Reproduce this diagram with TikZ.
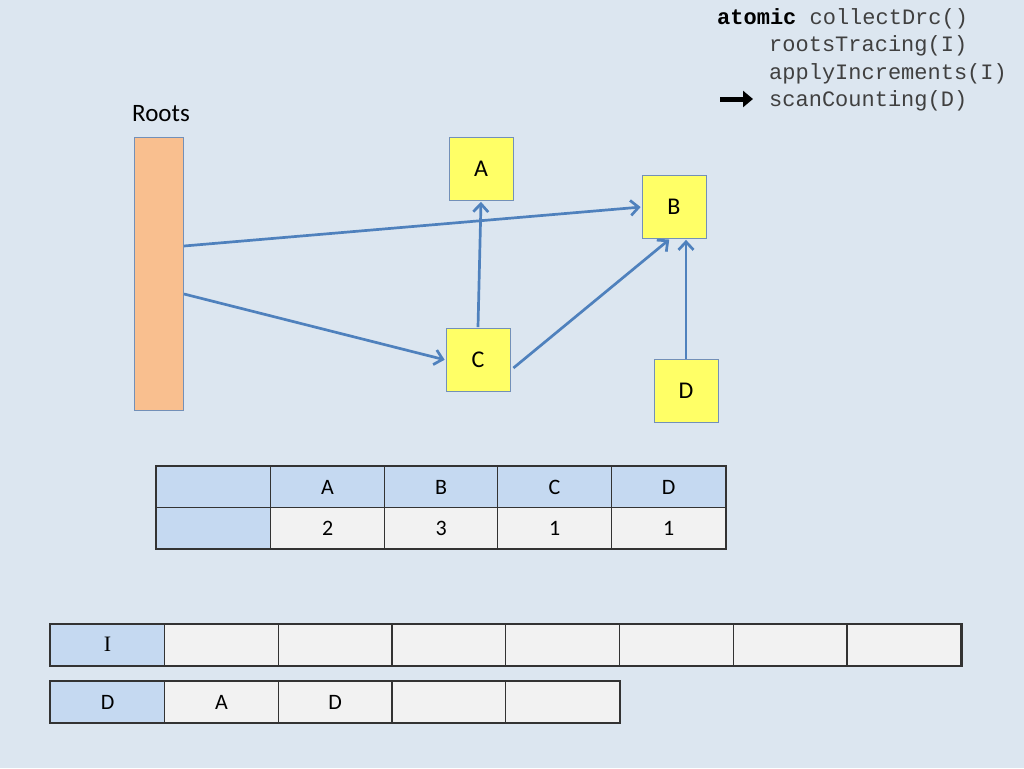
\documentclass[tikz,border=0pt]{standalone}
\usepackage{fontspec}
\setmainfont{Carlito}
\newfontfamily\monof{Liberation Mono}
\newfontfamily\seriff{Liberation Serif}
\usetikzlibrary{arrows.meta}
\definecolor{bg}{HTML}{DCE6F0}
\definecolor{peach}{HTML}{F9BF8F}
\definecolor{yel}{HTML}{FFFF66}
\definecolor{boxline}{HTML}{7390B8}
\definecolor{arr}{HTML}{4F81BD}
\definecolor{hdr}{HTML}{C5D9F1}
\definecolor{cellw}{HTML}{F2F2F2}
\definecolor{codegray}{HTML}{404040}
\tikzset{
  objbox/.style={draw=boxline, line width=0.8pt, fill=yel, minimum width=64pt, minimum height=63pt, inner sep=0pt, font=\fontsize{24}{28}\selectfont},
  ptr/.style={draw=arr, line width=2.7pt, -{Straight Barb[length=8pt,width=15pt]}, shorten >=1pt},
  cellh/.style={draw=black!80, line width=1.2pt, fill=hdr, minimum width=114pt, minimum height=41pt, inner sep=0pt, anchor=north west, font=\fontsize{22}{26}\selectfont},
  cellv/.style={cellh, fill=cellw},
  codeline/.style={anchor=base west, inner sep=0pt, font=\monof\fontsize{22}{26}\selectfont, text=codegray},
}
\begin{document}
\begin{tikzpicture}[x=1pt,y=-1pt]
\useasboundingbox (0,0) rectangle (1024,768);
\fill[bg] (0,0) rectangle (1024,768);

% code
\node[codeline, text=black] (c1) at (717,25) {\textbf{atomic}\ \textcolor{codegray}{collectDrc()}};
\node[codeline] (c2) at (769,52) {rootsTracing(I)};
\node[codeline] (c3) at (769,79) {applyIncrements(I)};
\node[codeline] (c4) at (769,106) {scanCounting(D)};
\coordinate (pa) at (720,99);
\coordinate (pb) at (753,99);
\draw[line width=5pt, -{Triangle[length=10pt,width=16pt]}] (pa) -- (pb);

% roots
\node[anchor=base, font=\fontsize{25}{28}\selectfont, inner sep=0pt] (rl) at (161,121) {Roots};
\node[draw=boxline, line width=0.8pt, fill=peach, anchor=north west, minimum width=49pt, minimum height=273pt, inner sep=0pt] (roots) at (134,137) {};

% objects
\node[objbox] (A) at (481,169) {A};
\node[objbox] (B) at (674,207) {B};
\node[objbox] (C) at (478,360) {C};
\node[objbox] (D) at (686,391) {D};

\coordinate (r1) at (184,246);
\coordinate (r2) at (184,294);
\draw[ptr] (r1) -- (B.west);
\draw[ptr] (r2) -- (C.west);
\draw[ptr] (C.north) ++(0,-1) coordinate (cn) (cn) -- (A.south);
\draw[ptr] ([xshift=3pt,yshift=-8pt]C.east) -- ([xshift=-4pt]B.south);
\draw[ptr] (D.north) -- ([xshift=12pt]B.south);

% RC table
\node[cellh] (t00) at (156,466) {};
\node[cellh] (t01) at (270,466) {A};
\node[cellh] (t02) at (383.5,466) {B};
\node[cellh] (t03) at (497,466) {C};
\node[cellh] (t04) at (611,466) {D};
\node[cellh] (t10) at (156,507) {};
\node[cellv] (t11) at (270,507) {2};
\node[cellv] (t12) at (383.5,507) {3};
\node[cellv] (t13) at (497,507) {1};
\node[cellv] (t14) at (611,507) {1};
\draw[black!80, line width=2pt] (t00.north west) rectangle (t14.south east);

% I array
\node[cellh, font=\seriff\fontsize{22}{26}\selectfont] (i0) at (50,623.5) {I};
\foreach \k/\xx in {1/163.8,2/277.5,3/391.3,4/505,5/618.8,6/732.5,7/846.3}{
  \node[cellv] (i\k) at (\xx,623.5) {};
}
\draw[black!80, line width=2pt] (i0.north west) rectangle (i7.south east);

% D array
\node[cellh] (d0) at (50,681) {D};
\node[cellv] (d1) at (163.8,681) {A};
\node[cellv] (d2) at (277.5,681) {D};
\node[cellv] (d3) at (391.3,681) {};
\node[cellv] (d4) at (505,681) {};
\draw[black!80, line width=2pt] (d0.north west) rectangle (d4.south east);
\end{tikzpicture}
\end{document}
